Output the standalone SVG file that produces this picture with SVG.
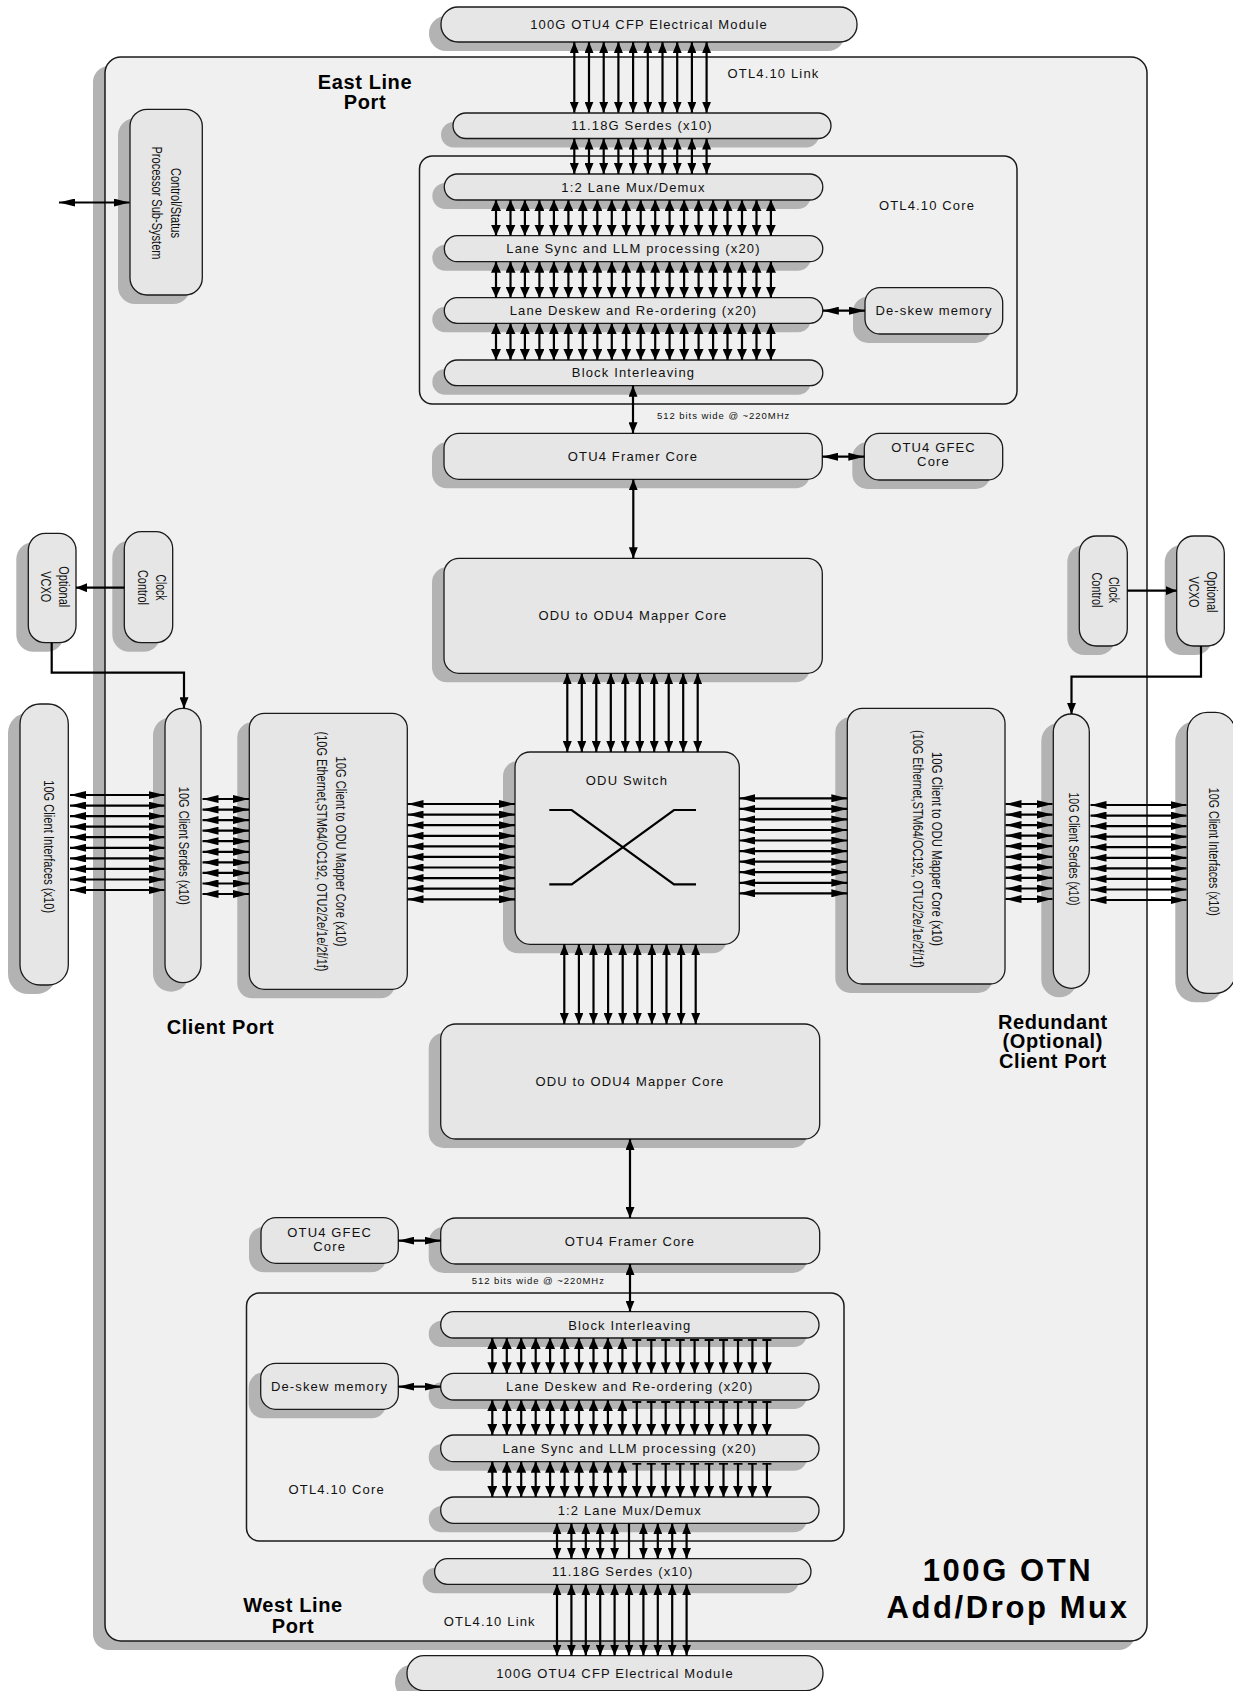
<svg xmlns="http://www.w3.org/2000/svg" width="1233" height="1691" viewBox="0 0 1233 1691">
<style>
.sh{fill:#b3b3b3}
.nd{fill:#e6e6e6;stroke:#1a1a1a;stroke-width:1.3}
.fr{fill:#f0f0f0;stroke:#1a1a1a;stroke-width:1.5}
.core{fill:none;stroke:#1a1a1a;stroke-width:1.5}
.t{font-family:"Liberation Sans",Arial,sans-serif;font-size:13px;letter-spacing:1.15px;fill:#111;text-anchor:middle}
.r{font-family:"Liberation Sans",Arial,sans-serif;font-size:14px;fill:#111;text-anchor:middle}
.sm{font-family:"Liberation Sans",Arial,sans-serif;font-size:9.5px;letter-spacing:0.95px;fill:#111}
.b{font-family:"Liberation Sans",Arial,sans-serif;font-size:20px;font-weight:bold;letter-spacing:0.6px;fill:#000;text-anchor:middle}
.big{font-family:"Liberation Sans",Arial,sans-serif;font-size:31px;font-weight:bold;letter-spacing:2.6px;fill:#000;text-anchor:middle}
.c line,.c polyline{stroke:#000;stroke-width:2.2;fill:none}
.c .d{marker-start:url(#mv);marker-end:url(#mv)}
.c .l{marker-start:url(#ml);marker-end:url(#ml)}
.c .h{marker-start:url(#mh);marker-end:url(#mh)}
.c .tl{marker-start:url(#mt);marker-end:url(#ml)}
.c .e{marker-end:url(#mv)}
.x{stroke:#000;stroke-width:2.2;fill:none}
</style>
<defs>
<marker id="mv" viewBox="0 0 11 9" refX="11" refY="4.5" markerWidth="11" markerHeight="9" markerUnits="userSpaceOnUse" orient="auto-start-reverse"><path d="M0,0L11,4.5L0,9z"/></marker>
<marker id="ml" viewBox="0 0 11 10" refX="11" refY="5" markerWidth="11" markerHeight="10" markerUnits="userSpaceOnUse" orient="auto-start-reverse"><path d="M0,0L11,5L0,10z"/></marker>
<marker id="mh" viewBox="0 0 16 8" refX="16" refY="4" markerWidth="16" markerHeight="8" markerUnits="userSpaceOnUse" orient="auto-start-reverse"><path d="M0,0L16,4L0,8z"/></marker>
<marker id="mt" viewBox="-1 -5 2 10" refX="0" refY="0" markerWidth="2" markerHeight="10" markerUnits="userSpaceOnUse" orient="auto"><rect x="-1" y="-4.5" width="2" height="9"/></marker>
</defs>
<rect width="1233" height="1691" fill="#fff"/>

<g id="frame">
<rect class="sh" x="93" y="66" width="1042" height="1584" rx="16"/>
<rect class="fr" x="105" y="57" width="1042" height="1584" rx="16"/>
<text class="b" x="365" y="88.5">East Line</text>
<text class="b" x="365" y="108.5">Port</text>
<text class="b" x="220.5" y="1034">Client Port</text>
<text class="b" x="1052.8" y="1028.5">Redundant</text>
<text class="b" x="1052.8" y="1048.3">(Optional)</text>
<text class="b" x="1052.8" y="1068.3">Client Port</text>
<text class="b" x="293" y="1612">West Line</text>
<text class="b" x="293" y="1632.5">Port</text>
<text class="big" x="1008" y="1581">100G OTN</text>
<text class="big" x="1008" y="1618">Add/Drop Mux</text>
<text class="t" x="773.5" y="77.5">OTL4.10 Link</text>
<text class="t" x="489.8" y="1626">OTL4.10 Link</text>
<text class="sm" x="657" y="419">512 bits wide @ ~220MHz</text>
<text class="sm" x="471.7" y="1284">512 bits wide @ ~220MHz</text>
</g>

<g id="core_top">
<rect class="core" x="419.5" y="156" width="597.5" height="248" rx="13"/>
<text class="t" x="927" y="210">OTL4.10 Core</text>
</g>
<g id="core_bot">
<rect class="core" x="246.5" y="1293" width="597.5" height="248" rx="13"/>
<text class="t" x="336.7" y="1494">OTL4.10 Core</text>
</g>

<g id="cfp_top"><rect class="sh" x="429" y="16" width="416" height="35" rx="17"/><rect class="nd" x="441" y="7" width="416" height="35" rx="17"/><text class="t" x="649" y="29">100G OTU4 CFP Electrical Module</text></g>
<g id="serdes_top"><rect class="sh" x="441" y="122" width="378" height="25.5" rx="12.7"/><rect class="nd" x="453" y="113" width="378" height="25.5" rx="12.7"/><text class="t" x="642" y="130">11.18G Serdes (x10)</text></g>
<g id="mux_top"><rect class="sh" x="432.3" y="183" width="378.5" height="26" rx="13"/><rect class="nd" x="444.3" y="174" width="378.5" height="26" rx="13"/><text class="t" x="633.5" y="191.5">1:2 Lane Mux/Demux</text></g>
<g id="sync_top"><rect class="sh" x="432.3" y="244.7" width="378.5" height="26" rx="13"/><rect class="nd" x="444.3" y="235.7" width="378.5" height="26" rx="13"/><text class="t" x="633.5" y="253.2">Lane Sync and LLM processing (x20)</text></g>
<g id="deskew_top"><rect class="sh" x="432.3" y="306.7" width="378.5" height="25.6" rx="12.8"/><rect class="nd" x="444.3" y="297.7" width="378.5" height="25.6" rx="12.8"/><text class="t" x="633.5" y="315">Lane Deskew and Re-ordering (x20)</text></g>
<g id="block_top"><rect class="sh" x="432.3" y="369" width="378.5" height="25.7" rx="12.8"/><rect class="nd" x="444.3" y="360" width="378.5" height="25.7" rx="12.8"/><text class="t" x="633.5" y="377.3">Block Interleaving</text></g>
<g id="dmem_top"><rect class="sh" x="853" y="296.7" width="137.7" height="46.3" rx="15"/><rect class="nd" x="865" y="287.7" width="137.7" height="46.3" rx="15"/><text class="t" x="934" y="315.3">De-skew memory</text></g>
<g id="framer_top"><rect class="sh" x="432" y="442.3" width="378.3" height="46" rx="15"/><rect class="nd" x="444" y="433.3" width="378.3" height="46" rx="15"/><text class="t" x="633" y="460.8">OTU4 Framer Core</text></g>
<g id="gfec_top"><rect class="sh" x="852.3" y="442.3" width="138.4" height="46.7" rx="15"/><rect class="nd" x="864.3" y="433.3" width="138.4" height="46.7" rx="15"/><text class="t" x="933.5" y="452.3">OTU4 GFEC</text><text class="t" x="933.5" y="466.3">Core</text></g>
<g id="odumap_top"><rect class="sh" x="432" y="567.3" width="378.3" height="115" rx="15"/><rect class="nd" x="444" y="558.3" width="378.3" height="115" rx="15"/><text class="t" x="633" y="620">ODU to ODU4 Mapper Core</text></g>
<g id="switch"><rect class="sh" x="503" y="761" width="224.3" height="192.3" rx="15"/><rect class="nd" x="515" y="752" width="224.3" height="192.3" rx="15"/><text class="t" x="627" y="785">ODU Switch</text>
<polyline class="x" points="549.3,810 571.7,810 674,884.3 696,884.3"/><polyline class="x" points="549.3,884.3 571.7,884.3 674,810 696,810"/></g>

<g id="ctrl"><rect class="sh" x="118" y="118.3" width="72.3" height="185.7" rx="17"/><rect class="nd" x="130" y="109.3" width="72.3" height="185.7" rx="17"/>
<text class="r" transform="translate(166,203) rotate(90)" y="-4.7" textLength="70" lengthAdjust="spacingAndGlyphs">Control/Status</text>
<text class="r" transform="translate(166,203) rotate(90)" y="14.3" textLength="113" lengthAdjust="spacingAndGlyphs">Processor Sub-System</text></g>

<g id="vcxo_l"><rect class="sh" x="16.3" y="542.3" width="47.7" height="109.4" rx="17"/><rect class="nd" x="28.3" y="533.3" width="47.7" height="109.4" rx="17"/>
<text class="r" transform="translate(52.2,586.7) rotate(90)" y="-6.8" textLength="41" lengthAdjust="spacingAndGlyphs">Optional</text>
<text class="r" transform="translate(52.2,586.7) rotate(90)" y="11.5" textLength="31" lengthAdjust="spacingAndGlyphs">VCXO</text></g>
<g id="clk_l"><rect class="sh" x="112.3" y="540.7" width="48.4" height="111" rx="17"/><rect class="nd" x="124.3" y="531.7" width="48.4" height="111" rx="17"/>
<text class="r" transform="translate(148.5,587.5) rotate(90)" y="-7" textLength="26" lengthAdjust="spacingAndGlyphs">Clock</text>
<text class="r" transform="translate(148.5,587.5) rotate(90)" y="11" textLength="35" lengthAdjust="spacingAndGlyphs">Control</text></g>
<g id="clk_r"><rect class="sh" x="1067.3" y="545" width="48" height="110" rx="17"/><rect class="nd" x="1079.3" y="536" width="48" height="110" rx="17"/>
<text class="r" transform="translate(1103.3,590) rotate(90)" y="-5.5" textLength="26" lengthAdjust="spacingAndGlyphs">Clock</text>
<text class="r" transform="translate(1103.3,590) rotate(90)" y="11.5" textLength="35" lengthAdjust="spacingAndGlyphs">Control</text></g>
<g id="vcxo_r"><rect class="sh" x="1164.7" y="545" width="47.6" height="110" rx="17"/><rect class="nd" x="1176.7" y="536" width="47.6" height="110" rx="17"/>
<text class="r" transform="translate(1200.5,592) rotate(90)" y="-6.9" textLength="41" lengthAdjust="spacingAndGlyphs">Optional</text>
<text class="r" transform="translate(1200.5,592) rotate(90)" y="11.5" textLength="31" lengthAdjust="spacingAndGlyphs">VCXO</text></g>

<g id="ifc_l"><rect class="sh" x="8" y="713" width="48.3" height="281" rx="20"/><rect class="nd" x="20" y="704" width="48.3" height="281" rx="20"/>
<text class="r" transform="translate(44.2,846.7) rotate(90)" y="0" textLength="133" lengthAdjust="spacingAndGlyphs">10G Client Interfaces (x10)</text></g>
<g id="serdes_l"><rect class="sh" x="153" y="717.3" width="36" height="274.4" rx="18"/><rect class="nd" x="165" y="708.3" width="36" height="274.4" rx="18"/>
<text class="r" transform="translate(183,845.8) rotate(90)" y="4" textLength="118" lengthAdjust="spacingAndGlyphs">10G Client Serdes (x10)</text></g>
<g id="cmap_l"><rect class="sh" x="237.3" y="722.3" width="158" height="276" rx="15"/><rect class="nd" x="249.3" y="713.3" width="158" height="276" rx="15"/>
<text class="r" transform="translate(328.3,851.5) rotate(90)" y="-7.4" textLength="190" lengthAdjust="spacingAndGlyphs">10G Client to ODU Mapper Core (x10)</text>
<text class="r" transform="translate(328.3,851.5) rotate(90)" y="10.9" textLength="240" lengthAdjust="spacingAndGlyphs">(10G Ethernet,STM64/OC192, OTU2/2e/1e/2f/1f)</text></g>
<g id="cmap_r"><rect class="sh" x="835.3" y="717.3" width="157.7" height="275.7" rx="15"/><rect class="nd" x="847.3" y="708.3" width="157.7" height="275.7" rx="15"/>
<text class="r" transform="translate(926.2,849) rotate(90)" y="-6.2" textLength="194" lengthAdjust="spacingAndGlyphs">10G Client to ODU Mapper Core (x10)</text>
<text class="r" transform="translate(926.2,849) rotate(90)" y="13" textLength="238" lengthAdjust="spacingAndGlyphs">(10G Ethernet,STM64/OC192, OTU2/2e/1e/2f/1f)</text></g>
<g id="serdes_r"><rect class="sh" x="1041.3" y="723" width="36" height="274.3" rx="18"/><rect class="nd" x="1053.3" y="714" width="36" height="274.3" rx="18"/>
<text class="r" transform="translate(1071.3,849) rotate(90)" y="2.6" textLength="113" lengthAdjust="spacingAndGlyphs">10G Client Serdes (x10)</text></g>
<g id="ifc_r"><rect class="sh" x="1175.3" y="721.3" width="48" height="281" rx="20"/><rect class="nd" x="1187.3" y="712.3" width="48" height="281" rx="20"/>
<text class="r" transform="translate(1210.7,851.7) rotate(90)" y="1.7" textLength="128" lengthAdjust="spacingAndGlyphs">10G Client Interfaces (x10)</text></g>

<g id="odumap_bot"><rect class="sh" x="428.7" y="1033" width="379" height="115" rx="15"/><rect class="nd" x="440.7" y="1024" width="379" height="115" rx="15"/><text class="t" x="630" y="1086">ODU to ODU4 Mapper Core</text></g>
<g id="framer_bot"><rect class="sh" x="428.7" y="1227" width="379" height="46" rx="15"/><rect class="nd" x="440.7" y="1218" width="379" height="46" rx="15"/><text class="t" x="630" y="1245.5">OTU4 Framer Core</text></g>
<g id="gfec_bot"><rect class="sh" x="249" y="1226.7" width="137.3" height="45.6" rx="15"/><rect class="nd" x="261" y="1217.7" width="137.3" height="45.6" rx="15"/><text class="t" x="329.7" y="1236.7">OTU4 GFEC</text><text class="t" x="329.7" y="1250.7">Core</text></g>
<g id="block_bot"><rect class="sh" x="428.7" y="1320.7" width="378.3" height="26.3" rx="13"/><rect class="nd" x="440.7" y="1311.7" width="378.3" height="26.3" rx="13"/><text class="t" x="629.8" y="1329.5">Block Interleaving</text></g>
<g id="deskew_bot"><rect class="sh" x="428.7" y="1382.3" width="378.3" height="26.7" rx="13"/><rect class="nd" x="440.7" y="1373.3" width="378.3" height="26.7" rx="13"/><text class="t" x="629.8" y="1391">Lane Deskew and Re-ordering (x20)</text></g>
<g id="sync_bot"><rect class="sh" x="428.7" y="1444" width="378.3" height="26.7" rx="13"/><rect class="nd" x="440.7" y="1435" width="378.3" height="26.7" rx="13"/><text class="t" x="629.8" y="1452.8">Lane Sync and LLM processing (x20)</text></g>
<g id="mux_bot"><rect class="sh" x="428.7" y="1506" width="378.3" height="26.3" rx="13"/><rect class="nd" x="440.7" y="1497" width="378.3" height="26.3" rx="13"/><text class="t" x="629.8" y="1514.6">1:2 Lane Mux/Demux</text></g>
<g id="dmem_bot"><rect class="sh" x="248.7" y="1372.3" width="137.6" height="46" rx="15"/><rect class="nd" x="260.7" y="1363.3" width="137.6" height="46" rx="15"/><text class="t" x="329.5" y="1390.8">De-skew memory</text></g>
<g id="serdes_bot"><rect class="sh" x="422.6" y="1567.7" width="376.4" height="25.6" rx="12.8"/><rect class="nd" x="434.6" y="1558.7" width="376.4" height="25.6" rx="12.8"/><text class="t" x="622.8" y="1576">11.18G Serdes (x10)</text></g>
<g id="cfp_bot"><rect class="sh" x="395" y="1664.7" width="416" height="35" rx="17"/><rect class="nd" x="407" y="1655.7" width="416" height="35" rx="17"/><text class="t" x="615" y="1677.7">100G OTU4 CFP Electrical Module</text></g>

<g id="connectors" class="c">
<line class="h" x1="59" y1="202.5" x2="129.5" y2="202.5"/>
<line class="d" x1="574.3" y1="42" x2="574.3" y2="112.7"/><line class="d" x1="589" y1="42" x2="589" y2="112.7"/><line class="d" x1="603.7" y1="42" x2="603.7" y2="112.7"/><line class="d" x1="618.4" y1="42" x2="618.4" y2="112.7"/><line class="d" x1="633.1" y1="42" x2="633.1" y2="112.7"/><line class="d" x1="647.8" y1="42" x2="647.8" y2="112.7"/><line class="d" x1="662.5" y1="42" x2="662.5" y2="112.7"/><line class="d" x1="677.2" y1="42" x2="677.2" y2="112.7"/><line class="d" x1="691.9" y1="42" x2="691.9" y2="112.7"/><line class="d" x1="706.6" y1="42" x2="706.6" y2="112.7"/>
<line class="d" x1="574.3" y1="138.5" x2="574.3" y2="174"/><line class="d" x1="589" y1="138.5" x2="589" y2="174"/><line class="d" x1="603.7" y1="138.5" x2="603.7" y2="174"/><line class="d" x1="618.4" y1="138.5" x2="618.4" y2="174"/><line class="d" x1="633.1" y1="138.5" x2="633.1" y2="174"/><line class="d" x1="647.8" y1="138.5" x2="647.8" y2="174"/><line class="d" x1="662.5" y1="138.5" x2="662.5" y2="174"/><line class="d" x1="677.2" y1="138.5" x2="677.2" y2="174"/><line class="d" x1="691.9" y1="138.5" x2="691.9" y2="174"/><line class="d" x1="706.6" y1="138.5" x2="706.6" y2="174"/>
<line class="l" x1="496" y1="200" x2="496" y2="235.7"/><line class="l" x1="510.5" y1="200" x2="510.5" y2="235.7"/><line class="l" x1="524.9" y1="200" x2="524.9" y2="235.7"/><line class="l" x1="539.4" y1="200" x2="539.4" y2="235.7"/><line class="l" x1="553.9" y1="200" x2="553.9" y2="235.7"/><line class="l" x1="568.4" y1="200" x2="568.4" y2="235.7"/><line class="l" x1="582.8" y1="200" x2="582.8" y2="235.7"/><line class="l" x1="597.3" y1="200" x2="597.3" y2="235.7"/><line class="l" x1="611.8" y1="200" x2="611.8" y2="235.7"/><line class="l" x1="626.2" y1="200" x2="626.2" y2="235.7"/><line class="l" x1="640.7" y1="200" x2="640.7" y2="235.7"/><line class="l" x1="655.2" y1="200" x2="655.2" y2="235.7"/><line class="l" x1="669.6" y1="200" x2="669.6" y2="235.7"/><line class="l" x1="684.1" y1="200" x2="684.1" y2="235.7"/><line class="l" x1="698.6" y1="200" x2="698.6" y2="235.7"/><line class="l" x1="713.1" y1="200" x2="713.1" y2="235.7"/><line class="l" x1="727.5" y1="200" x2="727.5" y2="235.7"/><line class="l" x1="742" y1="200" x2="742" y2="235.7"/><line class="l" x1="756.5" y1="200" x2="756.5" y2="235.7"/><line class="l" x1="770.9" y1="200" x2="770.9" y2="235.7"/>
<line class="l" x1="496" y1="261.7" x2="496" y2="297.7"/><line class="l" x1="510.5" y1="261.7" x2="510.5" y2="297.7"/><line class="l" x1="524.9" y1="261.7" x2="524.9" y2="297.7"/><line class="l" x1="539.4" y1="261.7" x2="539.4" y2="297.7"/><line class="l" x1="553.9" y1="261.7" x2="553.9" y2="297.7"/><line class="l" x1="568.4" y1="261.7" x2="568.4" y2="297.7"/><line class="l" x1="582.8" y1="261.7" x2="582.8" y2="297.7"/><line class="l" x1="597.3" y1="261.7" x2="597.3" y2="297.7"/><line class="l" x1="611.8" y1="261.7" x2="611.8" y2="297.7"/><line class="l" x1="626.2" y1="261.7" x2="626.2" y2="297.7"/><line class="l" x1="640.7" y1="261.7" x2="640.7" y2="297.7"/><line class="l" x1="655.2" y1="261.7" x2="655.2" y2="297.7"/><line class="l" x1="669.6" y1="261.7" x2="669.6" y2="297.7"/><line class="l" x1="684.1" y1="261.7" x2="684.1" y2="297.7"/><line class="l" x1="698.6" y1="261.7" x2="698.6" y2="297.7"/><line class="l" x1="713.1" y1="261.7" x2="713.1" y2="297.7"/><line class="l" x1="727.5" y1="261.7" x2="727.5" y2="297.7"/><line class="l" x1="742" y1="261.7" x2="742" y2="297.7"/><line class="l" x1="756.5" y1="261.7" x2="756.5" y2="297.7"/><line class="l" x1="770.9" y1="261.7" x2="770.9" y2="297.7"/>
<line class="l" x1="496" y1="323.3" x2="496" y2="360"/><line class="l" x1="510.5" y1="323.3" x2="510.5" y2="360"/><line class="l" x1="524.9" y1="323.3" x2="524.9" y2="360"/><line class="l" x1="539.4" y1="323.3" x2="539.4" y2="360"/><line class="l" x1="553.9" y1="323.3" x2="553.9" y2="360"/><line class="l" x1="568.4" y1="323.3" x2="568.4" y2="360"/><line class="l" x1="582.8" y1="323.3" x2="582.8" y2="360"/><line class="l" x1="597.3" y1="323.3" x2="597.3" y2="360"/><line class="l" x1="611.8" y1="323.3" x2="611.8" y2="360"/><line class="l" x1="626.2" y1="323.3" x2="626.2" y2="360"/><line class="l" x1="640.7" y1="323.3" x2="640.7" y2="360"/><line class="l" x1="655.2" y1="323.3" x2="655.2" y2="360"/><line class="l" x1="669.6" y1="323.3" x2="669.6" y2="360"/><line class="l" x1="684.1" y1="323.3" x2="684.1" y2="360"/><line class="l" x1="698.6" y1="323.3" x2="698.6" y2="360"/><line class="l" x1="713.1" y1="323.3" x2="713.1" y2="360"/><line class="l" x1="727.5" y1="323.3" x2="727.5" y2="360"/><line class="l" x1="742" y1="323.3" x2="742" y2="360"/><line class="l" x1="756.5" y1="323.3" x2="756.5" y2="360"/><line class="l" x1="770.9" y1="323.3" x2="770.9" y2="360"/>
<line class="h" x1="822.8" y1="310.7" x2="865" y2="310.7"/>
<line class="d" x1="633" y1="385.7" x2="633" y2="433.3"/>
<line class="h" x1="822.3" y1="456.7" x2="864.3" y2="456.7"/>
<line class="d" x1="633.3" y1="479.3" x2="633.3" y2="558.3"/>
<line class="d" x1="567.3" y1="673.3" x2="567.3" y2="752"/><line class="d" x1="581.8" y1="673.3" x2="581.8" y2="752"/><line class="d" x1="596.3" y1="673.3" x2="596.3" y2="752"/><line class="d" x1="610.8" y1="673.3" x2="610.8" y2="752"/><line class="d" x1="625.3" y1="673.3" x2="625.3" y2="752"/><line class="d" x1="639.8" y1="673.3" x2="639.8" y2="752"/><line class="d" x1="654.2" y1="673.3" x2="654.2" y2="752"/><line class="d" x1="668.7" y1="673.3" x2="668.7" y2="752"/><line class="d" x1="683.2" y1="673.3" x2="683.2" y2="752"/><line class="d" x1="697.7" y1="673.3" x2="697.7" y2="752"/>
<line class="d" x1="564.3" y1="944.3" x2="564.3" y2="1024"/><line class="d" x1="578.9" y1="944.3" x2="578.9" y2="1024"/><line class="d" x1="593.5" y1="944.3" x2="593.5" y2="1024"/><line class="d" x1="608.1" y1="944.3" x2="608.1" y2="1024"/><line class="d" x1="622.7" y1="944.3" x2="622.7" y2="1024"/><line class="d" x1="637.3" y1="944.3" x2="637.3" y2="1024"/><line class="d" x1="651.9" y1="944.3" x2="651.9" y2="1024"/><line class="d" x1="666.5" y1="944.3" x2="666.5" y2="1024"/><line class="d" x1="681.1" y1="944.3" x2="681.1" y2="1024"/><line class="d" x1="695.7" y1="944.3" x2="695.7" y2="1024"/>
<line class="h" x1="407.5" y1="804" x2="515" y2="804"/><line class="h" x1="407.5" y1="814.6" x2="515" y2="814.6"/><line class="h" x1="407.5" y1="825.2" x2="515" y2="825.2"/><line class="h" x1="407.5" y1="835.8" x2="515" y2="835.8"/><line class="h" x1="407.5" y1="846.4" x2="515" y2="846.4"/><line class="h" x1="407.5" y1="856.9" x2="515" y2="856.9"/><line class="h" x1="407.5" y1="867.5" x2="515" y2="867.5"/><line class="h" x1="407.5" y1="878.1" x2="515" y2="878.1"/><line class="h" x1="407.5" y1="888.7" x2="515" y2="888.7"/><line class="h" x1="407.5" y1="899.3" x2="515" y2="899.3"/>
<line class="h" x1="739.3" y1="798.3" x2="847.3" y2="798.3"/><line class="h" x1="739.3" y1="808.9" x2="847.3" y2="808.9"/><line class="h" x1="739.3" y1="819.4" x2="847.3" y2="819.4"/><line class="h" x1="739.3" y1="830" x2="847.3" y2="830"/><line class="h" x1="739.3" y1="840.5" x2="847.3" y2="840.5"/><line class="h" x1="739.3" y1="851.1" x2="847.3" y2="851.1"/><line class="h" x1="739.3" y1="861.7" x2="847.3" y2="861.7"/><line class="h" x1="739.3" y1="872.2" x2="847.3" y2="872.2"/><line class="h" x1="739.3" y1="882.8" x2="847.3" y2="882.8"/><line class="h" x1="739.3" y1="893.3" x2="847.3" y2="893.3"/>
<line class="h" x1="70" y1="795" x2="164.5" y2="795"/><line class="h" x1="70" y1="805.6" x2="164.5" y2="805.6"/><line class="h" x1="70" y1="816.1" x2="164.5" y2="816.1"/><line class="h" x1="70" y1="826.7" x2="164.5" y2="826.7"/><line class="h" x1="70" y1="837.2" x2="164.5" y2="837.2"/><line class="h" x1="70" y1="847.8" x2="164.5" y2="847.8"/><line class="h" x1="70" y1="858.4" x2="164.5" y2="858.4"/><line class="h" x1="70" y1="868.9" x2="164.5" y2="868.9"/><line class="h" x1="70" y1="879.5" x2="164.5" y2="879.5"/><line class="h" x1="70" y1="890" x2="164.5" y2="890"/>
<line class="h" x1="202.5" y1="799" x2="249" y2="799"/><line class="h" x1="202.5" y1="809.6" x2="249" y2="809.6"/><line class="h" x1="202.5" y1="820.1" x2="249" y2="820.1"/><line class="h" x1="202.5" y1="830.7" x2="249" y2="830.7"/><line class="h" x1="202.5" y1="841.2" x2="249" y2="841.2"/><line class="h" x1="202.5" y1="851.8" x2="249" y2="851.8"/><line class="h" x1="202.5" y1="862.4" x2="249" y2="862.4"/><line class="h" x1="202.5" y1="872.9" x2="249" y2="872.9"/><line class="h" x1="202.5" y1="883.5" x2="249" y2="883.5"/><line class="h" x1="202.5" y1="894" x2="249" y2="894"/>
<line class="h" x1="1005.5" y1="804" x2="1052.5" y2="804"/><line class="h" x1="1005.5" y1="814.6" x2="1052.5" y2="814.6"/><line class="h" x1="1005.5" y1="825.1" x2="1052.5" y2="825.1"/><line class="h" x1="1005.5" y1="835.7" x2="1052.5" y2="835.7"/><line class="h" x1="1005.5" y1="846.2" x2="1052.5" y2="846.2"/><line class="h" x1="1005.5" y1="856.8" x2="1052.5" y2="856.8"/><line class="h" x1="1005.5" y1="867.4" x2="1052.5" y2="867.4"/><line class="h" x1="1005.5" y1="877.9" x2="1052.5" y2="877.9"/><line class="h" x1="1005.5" y1="888.5" x2="1052.5" y2="888.5"/><line class="h" x1="1005.5" y1="899" x2="1052.5" y2="899"/>
<line class="h" x1="1090.5" y1="805" x2="1186.5" y2="805"/><line class="h" x1="1090.5" y1="815.6" x2="1186.5" y2="815.6"/><line class="h" x1="1090.5" y1="826.1" x2="1186.5" y2="826.1"/><line class="h" x1="1090.5" y1="836.7" x2="1186.5" y2="836.7"/><line class="h" x1="1090.5" y1="847.2" x2="1186.5" y2="847.2"/><line class="h" x1="1090.5" y1="857.8" x2="1186.5" y2="857.8"/><line class="h" x1="1090.5" y1="868.4" x2="1186.5" y2="868.4"/><line class="h" x1="1090.5" y1="878.9" x2="1186.5" y2="878.9"/><line class="h" x1="1090.5" y1="889.5" x2="1186.5" y2="889.5"/><line class="h" x1="1090.5" y1="900" x2="1186.5" y2="900"/>
<line class="e" x1="124.3" y1="587.7" x2="76" y2="587.7"/>
<polyline class="e" points="51.7,642.7 51.7,672.7 184,672.7 184,708.3"/>
<line class="e" x1="1127.3" y1="590.7" x2="1176.7" y2="590.7"/>
<polyline class="e" points="1201,646 1201,676.7 1071.5,676.7 1071.5,714"/>
<line class="d" x1="630" y1="1139" x2="630" y2="1218"/>
<line class="h" x1="398.3" y1="1240.7" x2="440.7" y2="1240.7"/>
<line class="d" x1="630" y1="1264" x2="630" y2="1311.7"/>
<line class="h" x1="398.3" y1="1386.7" x2="440.7" y2="1386.7"/>
<line class="l" x1="492.3" y1="1338" x2="492.3" y2="1373.3"/><line class="l" x1="506.8" y1="1338" x2="506.8" y2="1373.3"/><line class="l" x1="521.2" y1="1338" x2="521.2" y2="1373.3"/><line class="l" x1="535.7" y1="1338" x2="535.7" y2="1373.3"/><line class="l" x1="550.1" y1="1338" x2="550.1" y2="1373.3"/><line class="l" x1="564.6" y1="1338" x2="564.6" y2="1373.3"/><line class="l" x1="579" y1="1338" x2="579" y2="1373.3"/><line class="l" x1="593.5" y1="1338" x2="593.5" y2="1373.3"/><line class="l" x1="607.9" y1="1338" x2="607.9" y2="1373.3"/><line class="l" x1="622.4" y1="1338" x2="622.4" y2="1373.3"/><line class="tl" x1="636.8" y1="1340" x2="636.8" y2="1373.3"/><line class="tl" x1="651.3" y1="1340" x2="651.3" y2="1373.3"/><line class="tl" x1="665.7" y1="1340" x2="665.7" y2="1373.3"/><line class="tl" x1="680.2" y1="1340" x2="680.2" y2="1373.3"/><line class="tl" x1="694.6" y1="1340" x2="694.6" y2="1373.3"/><line class="tl" x1="709.1" y1="1340" x2="709.1" y2="1373.3"/><line class="tl" x1="723.5" y1="1340" x2="723.5" y2="1373.3"/><line class="tl" x1="738" y1="1340" x2="738" y2="1373.3"/><line class="tl" x1="752.4" y1="1340" x2="752.4" y2="1373.3"/><line class="tl" x1="766.9" y1="1340" x2="766.9" y2="1373.3"/>
<line class="l" x1="492.3" y1="1400" x2="492.3" y2="1435"/><line class="l" x1="506.8" y1="1400" x2="506.8" y2="1435"/><line class="l" x1="521.2" y1="1400" x2="521.2" y2="1435"/><line class="l" x1="535.7" y1="1400" x2="535.7" y2="1435"/><line class="l" x1="550.1" y1="1400" x2="550.1" y2="1435"/><line class="l" x1="564.6" y1="1400" x2="564.6" y2="1435"/><line class="l" x1="579" y1="1400" x2="579" y2="1435"/><line class="l" x1="593.5" y1="1400" x2="593.5" y2="1435"/><line class="l" x1="607.9" y1="1400" x2="607.9" y2="1435"/><line class="l" x1="622.4" y1="1400" x2="622.4" y2="1435"/><line class="tl" x1="636.8" y1="1402" x2="636.8" y2="1435"/><line class="tl" x1="651.3" y1="1402" x2="651.3" y2="1435"/><line class="tl" x1="665.7" y1="1402" x2="665.7" y2="1435"/><line class="tl" x1="680.2" y1="1402" x2="680.2" y2="1435"/><line class="tl" x1="694.6" y1="1402" x2="694.6" y2="1435"/><line class="tl" x1="709.1" y1="1402" x2="709.1" y2="1435"/><line class="tl" x1="723.5" y1="1402" x2="723.5" y2="1435"/><line class="tl" x1="738" y1="1402" x2="738" y2="1435"/><line class="tl" x1="752.4" y1="1402" x2="752.4" y2="1435"/><line class="tl" x1="766.9" y1="1402" x2="766.9" y2="1435"/>
<line class="l" x1="492.3" y1="1461.7" x2="492.3" y2="1497"/><line class="l" x1="506.8" y1="1461.7" x2="506.8" y2="1497"/><line class="l" x1="521.2" y1="1461.7" x2="521.2" y2="1497"/><line class="l" x1="535.7" y1="1461.7" x2="535.7" y2="1497"/><line class="l" x1="550.1" y1="1461.7" x2="550.1" y2="1497"/><line class="l" x1="564.6" y1="1461.7" x2="564.6" y2="1497"/><line class="l" x1="579" y1="1461.7" x2="579" y2="1497"/><line class="l" x1="593.5" y1="1461.7" x2="593.5" y2="1497"/><line class="l" x1="607.9" y1="1461.7" x2="607.9" y2="1497"/><line class="l" x1="622.4" y1="1461.7" x2="622.4" y2="1497"/><line class="tl" x1="636.8" y1="1463.7" x2="636.8" y2="1497"/><line class="tl" x1="651.3" y1="1463.7" x2="651.3" y2="1497"/><line class="tl" x1="665.7" y1="1463.7" x2="665.7" y2="1497"/><line class="tl" x1="680.2" y1="1463.7" x2="680.2" y2="1497"/><line class="tl" x1="694.6" y1="1463.7" x2="694.6" y2="1497"/><line class="tl" x1="709.1" y1="1463.7" x2="709.1" y2="1497"/><line class="tl" x1="723.5" y1="1463.7" x2="723.5" y2="1497"/><line class="tl" x1="738" y1="1463.7" x2="738" y2="1497"/><line class="tl" x1="752.4" y1="1463.7" x2="752.4" y2="1497"/><line class="tl" x1="766.9" y1="1463.7" x2="766.9" y2="1497"/>
<line class="d" x1="557" y1="1523.3" x2="557" y2="1558.7"/><line class="d" x1="571.4" y1="1523.3" x2="571.4" y2="1558.7"/><line class="d" x1="585.8" y1="1523.3" x2="585.8" y2="1558.7"/><line class="d" x1="600.2" y1="1523.3" x2="600.2" y2="1558.7"/><line class="d" x1="614.6" y1="1523.3" x2="614.6" y2="1558.7"/><line x1="629" y1="1523.3" x2="629" y2="1558.7"/><line class="d" x1="643.4" y1="1523.3" x2="643.4" y2="1558.7"/><line class="d" x1="657.8" y1="1523.3" x2="657.8" y2="1558.7"/><line class="d" x1="672.2" y1="1523.3" x2="672.2" y2="1558.7"/><line class="d" x1="686.6" y1="1523.3" x2="686.6" y2="1558.7"/>
<line class="d" x1="557" y1="1584.3" x2="557" y2="1655.7"/><line class="d" x1="571.4" y1="1584.3" x2="571.4" y2="1655.7"/><line class="d" x1="585.8" y1="1584.3" x2="585.8" y2="1655.7"/><line class="d" x1="600.2" y1="1584.3" x2="600.2" y2="1655.7"/><line class="d" x1="614.6" y1="1584.3" x2="614.6" y2="1655.7"/><line class="d" x1="629" y1="1584.3" x2="629" y2="1655.7"/><line class="d" x1="643.4" y1="1584.3" x2="643.4" y2="1655.7"/><line class="d" x1="657.8" y1="1584.3" x2="657.8" y2="1655.7"/><line class="d" x1="672.2" y1="1584.3" x2="672.2" y2="1655.7"/><line class="d" x1="686.6" y1="1584.3" x2="686.6" y2="1655.7"/>
</g>
</svg>
